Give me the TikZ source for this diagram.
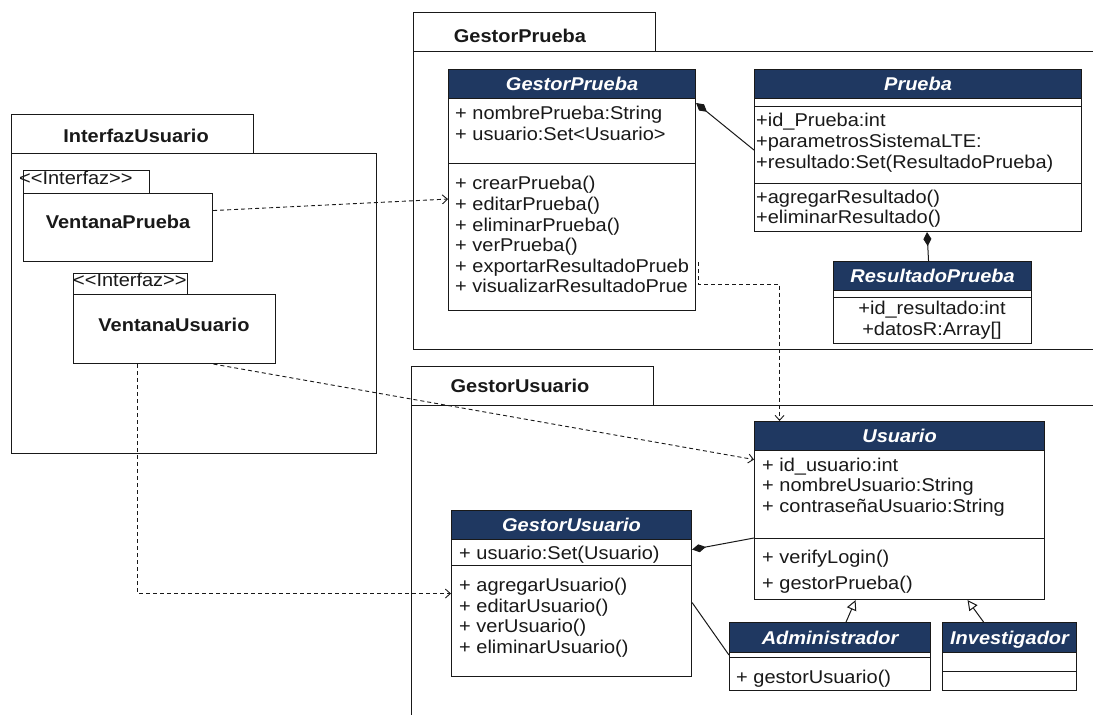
\documentclass[tikz,border=0pt]{standalone}
\usepackage{fontspec}
\newfontfamily\umlfont[FakeStretch=1.08,Ligatures=TeXOff]{Liberation Sans}
\usetikzlibrary{arrows.meta}
\definecolor{navy}{RGB}{31,56,97}
\definecolor{ink}{RGB}{25,25,25}
\newcommand\umlsize{\fontsize{18.5}{21}\selectfont}
\tikzset{
  hdr/.style={draw=ink, fill=navy, text=white, line width=1.1pt, anchor=north west,
    inner sep=0pt, font=\umlfont\umlsize\bfseries\itshape,
    text height=13pt, text depth=0pt},
  cmp/.style={draw=ink, fill=white, line width=1.1pt, anchor=north west, inner sep=0pt},
  row/.style={anchor=mid west, inner sep=0pt, text=ink, font=\umlfont\umlsize},
  crow/.style={row, anchor=mid},
  pkgbox/.style={draw=ink, fill=white, line width=1.2pt, anchor=north west, inner sep=0pt},
  pkgname/.style={inner sep=0pt, text=ink, font=\umlfont\umlsize\bfseries,
    text height=13pt, text depth=0pt},
  ifname/.style={pkgname},
  dep/.style={draw=ink, line width=0.9pt, dash pattern=on 4pt off 3pt,
    -{Straight Barb[length=5pt,width=9pt]}},
  comp/.style={draw=ink, line width=1pt, {Diamond[length=14pt,width=8pt]}-},
  compr/.style={draw=ink, line width=1pt, -{Diamond[length=14pt,width=8pt]}},
  gen/.style={draw=ink, line width=1pt, -{Triangle[open,length=10pt,width=10pt,fill=white]}},
  assoc/.style={draw=ink, line width=1pt},
}
\begin{document}
\begin{tikzpicture}[x=1pt,y=-1pt]
\useasboundingbox (0,0) rectangle (1093,715);
\clip (0,0) rectangle (1093,715);
\fill[white] (0,0) rectangle (1093,715);

% ---------- package InterfazUsuario ----------
\node[pkgbox, minimum width=365pt, minimum height=300pt] (iu-body) at (11,153) {};
\node[pkgbox, minimum width=242pt, minimum height=39pt] (iu-tab) at (11,114) {};
\node[pkgname] (iu-name) at (136,136) {InterfazUsuario};

\node[cmp, minimum width=126pt, minimum height=23pt] (vp-tab) at (23,170) {};
\node[cmp, minimum width=189pt, minimum height=68pt] (vp) at (23,193) {};
\node[row] (vp-st) at (19,182) {<<Interfaz>>};
\node[ifname] (vp-name) at (118,222) {VentanaPrueba};

\node[cmp, minimum width=114pt, minimum height=21pt] (vu-tab) at (73,273) {};
\node[cmp, minimum width=202pt, minimum height=69pt] (vu) at (73,294) {};
\node[row] (vu-st) at (73,284) {<<Interfaz>>};
\node[ifname] (vu-name) at (174,325) {VentanaUsuario};

% ---------- package GestorPrueba ----------
\node[pkgbox, minimum width=700pt, minimum height=298pt] (gpk-body) at (413,51) {};
\node[pkgbox, minimum width=242pt, minimum height=39pt] (gpk-tab) at (413,12) {};
\node[pkgname] (gpk-name) at (520,36) {GestorPrueba};

% class GestorPrueba
\node[hdr, minimum width=247pt, minimum height=29pt] (gp) at (448,69) {GestorPrueba};
\node[cmp, minimum width=247pt, minimum height=65pt] (gp-a) at (448,98) {};
\node[cmp, minimum width=247pt, minimum height=147pt] (gp-m) at (448,163) {};
\foreach \y/\t [count=\i] in {117/{+ nombrePrueba:String}, 138/{+ usuario:Set<Usuario>}}
  \node[row] (gp-a\i) at (455,\y) {\t};
\foreach \y/\t [count=\i] in {187/{+ crearPrueba()}, 208/{+ editarPrueba()},
    229/{+ eliminarPrueba()}, 249/{+ verPrueba()},
    270/{+ exportarResultadoPrueb}, 290/{+ visualizarResultadoPrue}}
  \node[row] (gp-m\i) at (455,\y) {\t};

% class Prueba
\node[hdr, minimum width=327pt, minimum height=29pt] (p) at (754,69) {Prueba};
\node[cmp, minimum width=327pt, minimum height=8pt] (p-e) at (754,98) {};
\node[cmp, minimum width=327pt, minimum height=77pt] (p-a) at (754,106) {};
\node[cmp, minimum width=327pt, minimum height=48pt] (p-m) at (754,183) {};
\foreach \y/\t [count=\i] in {124/{+id\_Prueba:int}, 145/{+parametrosSistemaLTE:},
    166/{+resultado:Set(ResultadoPrueba)}}
  \node[row] (p-a\i) at (756,\y) {\t};
\foreach \y/\t [count=\i] in {201/{+agregarResultado()}, 221/{+eliminarResultado()}}
  \node[row] (p-m\i) at (756,\y) {\t};

% class ResultadoPrueba
\node[hdr, minimum width=198pt, minimum height=29pt] (rp) at (833,261) {ResultadoPrueba};
\node[cmp, minimum width=198pt, minimum height=7pt] (rp-e) at (833,290) {};
\node[cmp, minimum width=198pt, minimum height=46pt] (rp-a) at (833,297) {};
\node[crow] (rp-a1) at (932,312) {+id\_resultado:int};
\node[crow] (rp-a2) at (932,333) {+datosR:Array[]};

% ---------- package GestorUsuario ----------
\node[pkgbox, minimum width=700pt, minimum height=330pt] (guk-body) at (411,405) {};
\node[pkgbox, minimum width=242pt, minimum height=39pt] (guk-tab) at (411,366) {};
\node[pkgname] (guk-name) at (520,386) {GestorUsuario};

% class Usuario
\node[hdr, minimum width=290pt, minimum height=29pt] (u) at (754,421) {Usuario};
\node[cmp, minimum width=290pt, minimum height=88pt] (u-a) at (754,450) {};
\node[cmp, minimum width=290pt, minimum height=61pt] (u-m) at (754,538) {};
\foreach \y/\t [count=\i] in {469/{+ id\_usuario:int}, 489/{+ nombreUsuario:String},
    510/{+ contraseñaUsuario:String}}
  \node[row] (u-a\i) at (762,\y) {\t};
\foreach \y/\t [count=\i] in {561/{+ verifyLogin()}, 587/{+ gestorPrueba()}}
  \node[row] (u-m\i) at (762,\y) {\t};

% class GestorUsuario
\node[hdr, minimum width=240pt, minimum height=29pt] (gu) at (451,510) {GestorUsuario};
\node[cmp, minimum width=240pt, minimum height=26pt] (gu-a) at (451,539) {};
\node[cmp, minimum width=240pt, minimum height=111pt] (gu-m) at (451,565) {};
\node[row] (gu-a1) at (459,557) {+ usuario:Set(Usuario)};
\foreach \y/\t [count=\i] in {589/{+ agregarUsuario()}, 610/{+ editarUsuario()},
    630/{+ verUsuario()}, 651/{+ eliminarUsuario()}}
  \node[row] (gu-m\i) at (459,\y) {\t};

% class Administrador
\node[hdr, minimum width=201pt, minimum height=30pt] (ad) at (729,622) {Administrador};
\node[cmp, minimum width=201pt, minimum height=5pt] (ad-e) at (729,652) {};
\node[cmp, minimum width=201pt, minimum height=33pt] (ad-m) at (729,657) {};
\node[row] (ad-m1) at (736,681) {+ gestorUsuario()};

% class Investigador
\node[hdr, minimum width=134pt, minimum height=30pt] (iv) at (942,622) {Investigador};
\node[cmp, minimum width=134pt, minimum height=19pt] (iv-a) at (942,652) {};
\node[cmp, minimum width=134pt, minimum height=19pt] (iv-m) at (942,671) {};

% ---------- relations ----------
\draw[comp] ([yshift=-5pt]gp-a.north east) -- ([yshift=-5pt]p-a.west);
\draw[comp] ([xshift=9pt]p-m.south) -- ([xshift=-4pt]rp.north);
\draw[compr] (u-m.north west) -- ([yshift=3pt]gu-a.east);
\draw[assoc] ([yshift=18.5pt]gu-m.east) -- (ad-e.west);
\draw[gen] ([xshift=16pt]ad.north) -- ([xshift=-44pt]u-m.south);
\draw[gen] ([xshift=-26pt]iv.north) -- ([xshift=68pt]u-m.south);

\draw[dep] ([yshift=17pt]vp.east) -- ([yshift=38pt]gp-m.west);
\draw[dep] ([xshift=39pt]vu.south) -- ([yshift=35pt]u-a.west);
\draw[dep] ([xshift=-37pt]vu.south) |- ([yshift=27.5pt]gu-m.west);
\draw[dep] ([xshift=2pt,yshift=-25pt]gp-m.east) -- ++(0,22) -| ([xshift=-120pt]u.north);
\end{tikzpicture}
\end{document}
